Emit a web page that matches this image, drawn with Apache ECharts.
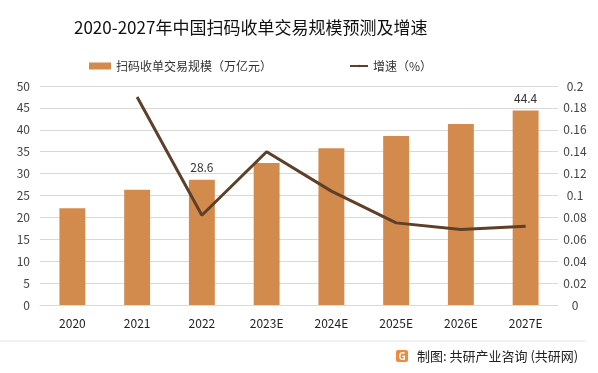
<!DOCTYPE html>
<html>
<head>
<meta charset="utf-8">
<script src="https://cdn.jsdelivr.net/npm/echarts@6/dist/echarts.min.js"></script>
<style>html,body{margin:0;padding:0;background:#fff}#c{width:598px;height:373px}</style>
</head>
<body>
<div id="c"></div>
<script>
const categories = ['2020','2021','2022','2023E','2024E','2025E','2026E','2027E'];
const scale = [22.1, 26.3, 28.6, 32.4, 35.8, 38.6, 41.3, 44.4];
const growth = [null, 0.19, 0.082, 0.14, 0.104, 0.075, 0.069, 0.072];
const labeledBars = ['2022','2027E'];
const leftTicks = {min:0, max:50, interval:5};
const rightTicks = {min:0, max:0.2, interval:0.02};

const font = '"Noto Sans CJK SC", "Noto Sans", sans-serif';
const chart = echarts.init(document.getElementById('c'), null, {renderer:'canvas'});
chart.setOption({
  animation:false,
  textStyle:{fontFamily:font},
  title:{text:'2020-2027年中国扫码收单交易规模预测及增速', left:69, top:14,
    textStyle:{fontSize:17, fontWeight:'normal', color:'#111', fontFamily:font}},
  legend:[
    {data:['扫码收单交易规模（万亿元）'], left:84, top:55, itemWidth:22, itemHeight:7, icon:'rect',
     textStyle:{fontSize:12, color:'#333', fontFamily:font}},
    {data:['增速（%）'], left:344, top:55, itemWidth:18, itemHeight:3,
     textStyle:{fontSize:12, color:'#333', fontFamily:font}}
  ],
  grid:{left:40, right:40, top:86, bottom:68, containLabel:false},
  xAxis:{type:'category', data:categories, axisTick:{show:false},
    axisLine:{lineStyle:{color:'#d9d9d9'}},
    axisLabel:{color:'#222', fontSize:12, margin:12, fontFamily:font}},
  yAxis:[
    {type:'value', min:leftTicks.min, max:leftTicks.max, interval:leftTicks.interval,
     axisLabel:{color:'#444', fontSize:12, margin:10, fontFamily:font},
     splitLine:{lineStyle:{color:'#d9d9d9'}}, axisLine:{show:false}, axisTick:{show:false}},
    {type:'value', min:rightTicks.min, max:rightTicks.max, interval:rightTicks.interval,
     axisLabel:{color:'#444', fontSize:12, margin:17, align:'center', fontFamily:font},
     splitLine:{show:false}, axisLine:{show:false}, axisTick:{show:false}}
  ],
  series:[
    {name:'扫码收单交易规模（万亿元）', type:'bar', barWidth:'40%',
     itemStyle:{color:'#D38B4D'},
     data:scale.map((v,i)=>({value:v, label:{show:labeledBars.includes(categories[i])}})),
     label:{position:'top', distance:6, color:'#333', fontSize:12, fontFamily:font}},
    {name:'增速（%）', type:'line', yAxisIndex:1, data:growth, showSymbol:false, symbol:'none',
     lineStyle:{color:'#5E3F28', width:3}, itemStyle:{color:'#5E3F28'}}
  ],
  graphic:[
    {type:'line', shape:{x1:0, y1:341, x2:586, y2:341}, style:{stroke:'#e3e3e3', lineWidth:1}},
    {type:'rect', shape:{x:396, y:350, width:12, height:12, r:2}, style:{fill:'#F08A3C'}},
    {type:'text', x:402, y:356, style:{text:'G', fill:'#fff', fontSize:10, fontWeight:'bold', align:'center', verticalAlign:'middle', fontFamily:font}},
    {type:'text', x:417, y:356, style:{text:'制图: 共研产业咨询 (共研网)', fill:'#222', fontSize:13, verticalAlign:'middle', fontFamily:font}}
  ]
});
</script>
</body>
</html>
